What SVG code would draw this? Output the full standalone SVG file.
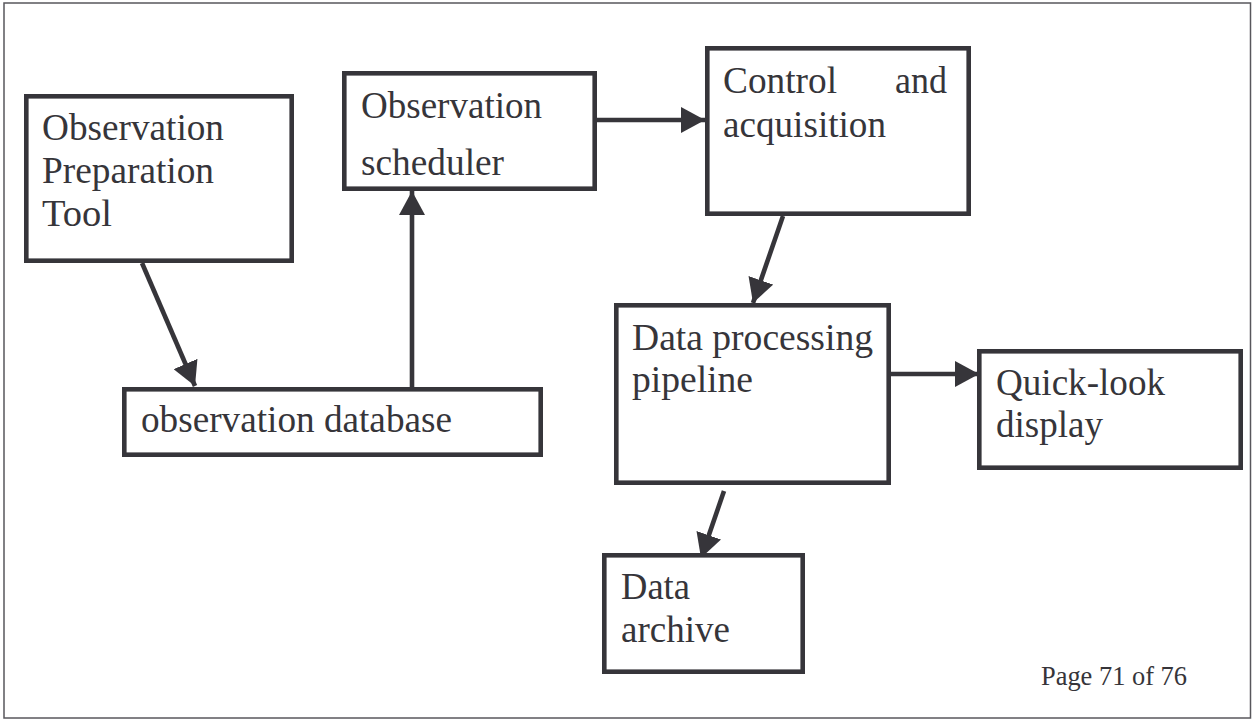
<svg xmlns="http://www.w3.org/2000/svg" width="1252" height="722" viewBox="0 0 1252 722">
<style>
.box{fill:#ffffff;stroke:#36353a;stroke-width:4.6}
.t{font-family:"Liberation Serif","Times New Roman",serif;font-size:37px;fill:#36353a}
.conn{stroke:#36353a;stroke-width:4.6;fill:none}
.page{font-family:"Liberation Serif","Times New Roman",serif;font-size:26.5px;fill:#36353a}
</style>
<defs>
<marker id="ah" markerUnits="userSpaceOnUse" markerWidth="24" markerHeight="26" refX="24" refY="13" orient="auto" viewBox="0 0 24 26">
<path d="M0,0 L24,13 L0,26 Z" fill="#36353a"/>
</marker>
</defs>
<rect x="4" y="3" width="1246.5" height="715" fill="#ffffff" stroke="#58575c" stroke-width="1.5"/>
<g id="connectors">
<line class="conn" x1="142" y1="263" x2="195" y2="386" marker-end="url(#ah)"/>
<line class="conn" x1="412" y1="387" x2="412" y2="191" marker-end="url(#ah)"/>
<line class="conn" x1="597" y1="120" x2="705" y2="120" marker-end="url(#ah)"/>
<line class="conn" x1="783" y1="216" x2="753" y2="303" marker-end="url(#ah)"/>
<line class="conn" x1="891" y1="374" x2="979" y2="374" marker-end="url(#ah)"/>
<line class="conn" x1="724" y1="491" x2="701" y2="558" marker-end="url(#ah)"/>
</g>
<g id="prep">
<rect class="box" x="26.3" y="96.3" width="265.4" height="164.4"/>
<text class="t" x="42" y="140" textLength="182" lengthAdjust="spacingAndGlyphs">Observation</text>
<text class="t" x="42" y="183" textLength="172" lengthAdjust="spacingAndGlyphs">Preparation</text>
<text class="t" x="42" y="226" textLength="70" lengthAdjust="spacingAndGlyphs">Tool</text>
</g>
<g id="scheduler">
<rect class="box" x="344.3" y="73.3" width="250.4" height="115.4"/>
<text class="t" x="361" y="118" textLength="181" lengthAdjust="spacingAndGlyphs">Observation</text>
<text class="t" x="361" y="175" textLength="143" lengthAdjust="spacingAndGlyphs">scheduler</text>
</g>
<g id="control">
<rect class="box" x="707.3" y="48.3" width="261.4" height="165.4"/>
<text class="t" x="723" y="93" textLength="114" lengthAdjust="spacingAndGlyphs">Control</text>
<text class="t" x="895" y="93" textLength="52" lengthAdjust="spacingAndGlyphs">and</text>
<text class="t" x="723" y="137" textLength="163" lengthAdjust="spacingAndGlyphs">acquisition</text>
</g>
<g id="database">
<rect class="box" x="124.3" y="389.3" width="416.4" height="65.4"/>
<text class="t" x="141" y="432" textLength="311" lengthAdjust="spacingAndGlyphs">observation database</text>
</g>
<g id="pipeline">
<rect class="box" x="616.3" y="305.3" width="272.4" height="177.4"/>
<text class="t" x="632" y="350" textLength="241" lengthAdjust="spacingAndGlyphs">Data processing</text>
<text class="t" x="632" y="392" textLength="121" lengthAdjust="spacingAndGlyphs">pipeline</text>
</g>
<g id="quicklook">
<rect class="box" x="979.3" y="351.3" width="261.4" height="116.4"/>
<text class="t" x="996" y="395" textLength="169" lengthAdjust="spacingAndGlyphs">Quick-look</text>
<text class="t" x="996" y="437" textLength="107" lengthAdjust="spacingAndGlyphs">display</text>
</g>
<g id="archive">
<rect class="box" x="604.3" y="555.3" width="198.4" height="116.4"/>
<text class="t" x="621" y="599" textLength="69" lengthAdjust="spacingAndGlyphs">Data</text>
<text class="t" x="621" y="642" textLength="109" lengthAdjust="spacingAndGlyphs">archive</text>
</g>
<text class="page" x="1041" y="685" textLength="146" lengthAdjust="spacingAndGlyphs">Page 71 of 76</text>
</svg>
